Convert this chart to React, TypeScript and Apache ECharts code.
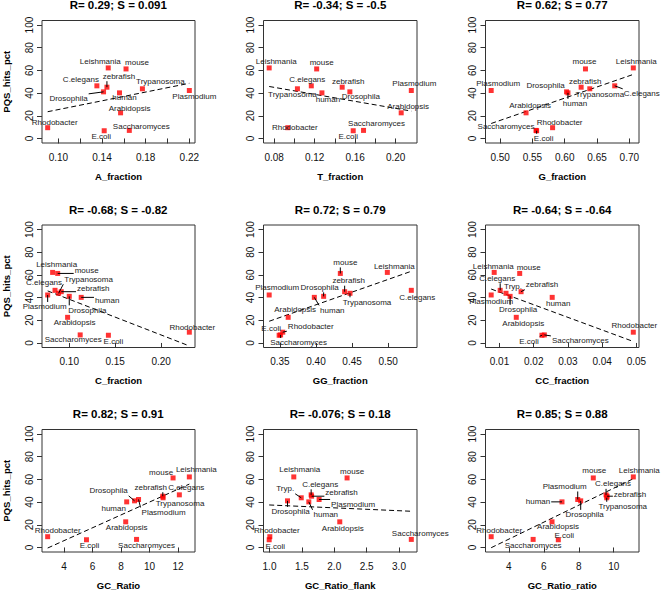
import React, { useEffect, useRef } from "react";
import * as echarts from "echarts";

const organisms = ["Leishmania", "mouse", "C.elegans", "zebrafish", "Trypanosoma", "Plasmodium", "Drosophila", "human", "Arabidopsis", "Rhodobacter", "E.coli", "Saccharomyces"];
const pqsHitsPct = [62.2, 61.3, 46.4, 45.2, 43.8, 42.3, 41.1, 40.2, 22.6, 9.5, 6.8, 7.1];

const aFraction = [0.1457, 0.162, 0.1353, 0.1445, 0.177, 0.22, 0.1414, 0.156, 0.157, 0.0902, 0.142, 0.165];
const tFraction = [0.0751, 0.122, 0.1167, 0.1472, 0.103, 0.2155, 0.1548, 0.1272, 0.2055, 0.0935, 0.1581, 0.1683];
const gFraction = [0.7062, 0.6321, 0.6774, 0.6254, 0.6388, 0.4861, 0.6028, 0.605, 0.5401, 0.5812, 0.5565, 0.5555];
const cFraction = [0.0819, 0.0874, 0.0845, 0.0913, 0.0884, 0.0765, 0.1, 0.113, 0.0982, 0.2307, 0.1426, 0.1119];
const ggFraction = [0.4988, 0.4337, 0.532, 0.4397, 0.4471, 0.3352, 0.4106, 0.3977, 0.3615, 0.354, 0.349, 0.351];
const ccFraction = [0.00845, 0.0159, 0.0102, 0.0163, 0.0119, 0.00757, 0.0131, 0.0254, 0.0149, 0.0491, 0.0224, 0.0231];
const gcRatio = [12.79, 11.65, 12.09, 10.93, 10.95, 9.23, 8.95, 8.4, 8.33, 2.86, 5.58, 9.09];
const gcRatioFlank = [1.375, 2.198, 1.643, 1.65, 1.49, 1.766, 1.278, 1.607, 2.085, 1.005, 0.995, 3.19];
const gcRatioRatio = [11.12, 8.83, 9.56, 9.62, 9.6, 7.94, 8.11, 7.04, 6.47, 2.99, 6.83, 5.39];

const panelX = [aFraction, tFraction, gFraction, cFraction, ggFraction, ccFraction, gcRatio, gcRatioFlank, gcRatioRatio];

const titles = [
  "R= 0.29; S = 0.091", "R= -0.34; S = -0.5", "R= 0.62; S = 0.77",
  "R= -0.68; S = -0.82", "R= 0.72; S = 0.79", "R= -0.64; S = -0.64",
  "R= 0.82; S = 0.91", "R= -0.076; S = 0.18", "R= 0.85; S = 0.88",
];
const xNames = ["A_fraction", "T_fraction", "G_fraction", "C_fraction", "GG_fraction", "CC_fraction", "GC_Ratio", "GC_Ratio_flank", "GC_Ratio_ratio"];
const yName = "PQS_hits_pct";

const xTicks = [
  [0.1, 0.12, 0.14, 0.16, 0.18, 0.2, 0.22],
  [0.08, 0.1, 0.12, 0.14, 0.16, 0.18, 0.2],
  [0.5, 0.55, 0.6, 0.65, 0.7],
  [0.1, 0.15, 0.2],
  [0.35, 0.4, 0.45, 0.5],
  [0.01, 0.02, 0.03, 0.04, 0.05],
  [4, 6, 8, 10, 12],
  [1.0, 1.5, 2.0, 2.5, 3.0],
  [4, 6, 8, 10],
];
const xTickLabels = [
  [0.1, 0.14, 0.18, 0.22],
  [0.08, 0.12, 0.16, 0.2],
  [0.5, 0.55, 0.6, 0.65, 0.7],
  [0.1, 0.15, 0.2],
  [0.35, 0.4, 0.45, 0.5],
  [0.01, 0.02, 0.03, 0.04, 0.05],
  [4, 6, 8, 10, 12],
  [1.0, 1.5, 2.0, 2.5, 3.0],
  [4, 6, 8, 10],
];
const xDecimals = [2, 2, 2, 2, 2, 2, 0, 1, 0];
const yTicks = [0, 20, 40, 60, 80, 100];

// label name overrides per panel
const shortNames: Record<number, Record<string, string>> = {
  5: { Trypanosoma: "Tryp." },
  7: { Trypanosoma: "Tryp." },
};

// label placement (pixel offsets of the label centre from the point, leader line flag), organism order
const labelPlacement = [
  [[-8, -6, 0], [11, -6, 0], [-16, -6, 1], [12, -11, 1], [18, -7, 0], [5, 6, 0], [-35, 7, 1], [5, 5, 0], [9, -4, 0], [7, -5, 0], [-3, 6, 0], [12, -4, 0]],
  [[7, -6, 0], [5, -6, 0], [-4, -6, 0], [6, -6, 0], [-5, 6, 0], [3, -7, 0], [11, 5, 0], [6, 7, 0], [7, -6, 0], [7, 0, 0], [-5, 6, 0], [13, -7, 0]],
  [[3, -6, 0], [-1, -7, 0], [27, 8, 1], [4, -6, 0], [10, 6, 0], [7, -7, 0], [-21, -6, 1], [7, 11, 1], [4, -7, 0], [7, -5, 0], [7, 8, 1], [-30, -4, 1]],
  [[4, -8, 0], [29, -2.5, 1], [-11, -8, 0], [32, -3.5, 1], [30, -14, 1], [-3, 12, 1], [18, 14, 1], [26, 3, 1], [7, 5, 0], [3, -5, 0], [5, 6, 0], [-7, 5, 0]],
  [[7, -6, 0], [5, -11, 1], [6, 7, 0], [4, -11, 1], [17, 9, 1], [8, -7, 0], [-4, -9, 1], [18, 13, 1], [7, -8, 0], [28, -6, 1], [-8, -7, 1], [18, 8, 1]],
  [[-1, -6, 0], [9, -6, 0], [-3, -12, 1], [21, -7, 1], [7, -7, 1], [0, 7, 0], [8, 13.5, 1], [6, 6, 0], [7, 6, 0], [1, -7, 0], [-13, 6, 1], [36, 6, 1]],
  [[7, -7, 0], [-12, -5, 1], [7, -7, 0], [-12, -9, 1], [17, 6, 1], [25, 13, 1], [-26, -10, 1], [-13, 7, 1], [1, 6, 0], [10, -6, 0], [3, 6, 0], [10, 6, 0]],
  [[6, -7, 0], [5, -6, 0], [9, -10.5, 1], [30, -3.5, 1], [-16, -9, 1], [34, 5, 1], [3, 11, 1], [17, 13, 1], [3, 7, 0], [7, -6, 0], [6, 7, 0], [9, -6, 0]],
  [[6, -6, 0], [1, -7, 0], [7, -11, 1], [23, -2, 1], [16, 9, 1], [-13, -13, 1], [4, 14, 1], [-24, 0, 1], [6, 5, 0], [8, -6, 0], [6, -4, 0], [0, 6, 0]],
];

const FONT = '"Liberation Sans", Arial, Helvetica, sans-serif';
const LABEL_SIZE = 8;

const GRID_LEFT0 = 41.5;
const GRID_DX = 222;
const GRID_W = 153.5;
const GRID_TOP0 = 20.5;
const GRID_DY = 204.5;
const GRID_H = 122.5;

function linFit(xs: number[], ys: number[]) {
  const n = xs.length;
  const mx = xs.reduce((s, v) => s + v, 0) / n;
  const my = ys.reduce((s, v) => s + v, 0) / n;
  let sxy = 0, sxx = 0;
  for (let i = 0; i < n; i++) {
    sxy += (xs[i] - mx) * (ys[i] - my);
    sxx += (xs[i] - mx) * (xs[i] - mx);
  }
  const b = sxy / sxx;
  return { a: my - b * mx, b };
}

let measureCtx: CanvasRenderingContext2D | null = null;
function textWidth(t: string) {
  if (!measureCtx) {
    const c = document.createElement("canvas");
    measureCtx = c.getContext("2d");
  }
  if (!measureCtx) return t.length * LABEL_SIZE * 0.5;
  measureCtx.font = `${LABEL_SIZE}px ${FONT}`;
  return measureCtx.measureText(t).width;
}

function buildOption() {
  const grid: any[] = [];
  const xAxis: any[] = [];
  const yAxis: any[] = [];
  const series: any[] = [];
  const title: any[] = [];

  panelX.forEach((xs, i) => {
    const r = Math.floor(i / 3);
    const c = i % 3;
    const left = GRID_LEFT0 + GRID_DX * c;
    const top = GRID_TOP0 + GRID_DY * r;
    grid.push({ left, top, width: GRID_W, height: GRID_H, show: true, borderColor: "#333", borderWidth: 1, backgroundColor: "transparent", containLabel: false });

    const xmin = Math.min(...xs);
    const xmax = Math.max(...xs);
    const pad = (xmax - xmin) * 0.04;
    const dec = xDecimals[i];

    xAxis.push({
      type: "value", gridIndex: i, min: xmin - pad, max: xmax + pad,
      name: xNames[i], nameLocation: "middle", nameGap: 28,
      nameTextStyle: { fontWeight: "bold", fontSize: 9.5, fontFamily: FONT, color: "#000" },
      axisLine: { show: false }, splitLine: { show: false },
      axisTick: { show: true, inside: false, length: 5, customValues: xTicks[i], lineStyle: { color: "#333", width: 1 } },
      axisLabel: { customValues: xTickLabels[i], formatter: (v: number) => v.toFixed(dec), fontSize: 10, fontFamily: FONT, color: "#111", margin: 9 },
    });
    yAxis.push({
      type: "value", gridIndex: i, min: -4, max: 104,
      name: c === 0 ? yName : "", nameLocation: "middle", nameGap: 31, nameRotate: 90,
      nameTextStyle: { fontWeight: "bold", fontSize: 9.5, fontFamily: FONT, color: "#000" },
      axisLine: { show: false }, splitLine: { show: false },
      axisTick: { show: true, inside: false, length: 5, customValues: yTicks, lineStyle: { color: "#333", width: 1 } },
      axisLabel: { customValues: yTicks, rotate: 90, fontSize: 10, fontFamily: FONT, color: "#111", margin: 8 },
    });

    title.push({
      text: titles[i], left: left + GRID_W / 2, top: -1 + GRID_DY * r, textAlign: "center", padding: 0,
      textStyle: { fontSize: 11.5, fontWeight: "bold", fontFamily: FONT, color: "#000" },
    });

    const { a, b } = linFit(xs, pqsHitsPct);
    series.push({
      type: "line", xAxisIndex: i, yAxisIndex: i, symbol: "none", silent: true, z: 2,
      lineStyle: { color: "#000", width: 1, type: [5, 3] },
      data: [[xmin, a + b * xmin], [xmax, a + b * xmax]],
    });
    series.push({
      type: "scatter", xAxisIndex: i, yAxisIndex: i, symbol: "rect", symbolSize: 5, z: 3, silent: true,
      itemStyle: { color: "#ff0000" },
      data: xs.map((x, k) => [x, pqsHitsPct[k]]),
    });
    const names = organisms.map((o) => (shortNames[i] && shortNames[i][o]) || o);
    const place = labelPlacement[i];
    series.push({
      type: "custom", xAxisIndex: i, yAxisIndex: i, z: 4, silent: true, clip: false,
      encode: { x: 0, y: 1 },
      data: xs.map((x, k) => [x, pqsHitsPct[k], k]),
      renderItem: (params: any, api: any) => {
        const k = api.value(2);
        const p = api.coord([api.value(0), api.value(1)]);
        const [dx, dy, ln] = place[k];
        const cx = p[0] + dx;
        const cy = p[1] + dy;
        const txt = names[k];
        const w = textWidth(txt);
        const h = LABEL_SIZE;
        const children: any[] = [];
        if (ln) {
          const bx0 = cx - w / 2 - 1, bx1 = cx + w / 2 + 1;
          const by0 = cy - h / 2 - 1, by1 = cy + h / 2 + 1;
          const qx = Math.min(Math.max(p[0], bx0), bx1);
          const qy = Math.min(Math.max(p[1], by0), by1);
          if (Math.hypot(qx - p[0], qy - p[1]) > 2) {
            children.push({
              type: "line",
              shape: { x1: p[0], y1: p[1], x2: qx, y2: qy },
              style: { stroke: "#000", lineWidth: 1 },
            });
          }
        }
        children.push({
          type: "text",
          x: cx, y: cy,
          style: {
            text: txt, fill: "#222", font: `${LABEL_SIZE}px ${FONT}`,
            align: "center", verticalAlign: "middle",
            textAlign: "center", textVerticalAlign: "middle",
          },
        });
        return { type: "group", children };
      },
    });
  });

  return {
    animation: false,
    backgroundColor: "#ffffff",
    title, grid, xAxis, yAxis, series,
  };
}

export default function App() {
  const ref = useRef<HTMLDivElement>(null);
  useEffect(() => {
    if (!ref.current) return;
    const chart = echarts.init(ref.current, undefined, { renderer: "svg" });
    chart.setOption(buildOption() as any);
    return () => chart.dispose();
  }, []);
  return (
    <div
      ref={ref}
      style={{ position: "absolute", left: 0, top: 0, width: 661, height: 592, background: "#fff" }}
    />
  );
}
